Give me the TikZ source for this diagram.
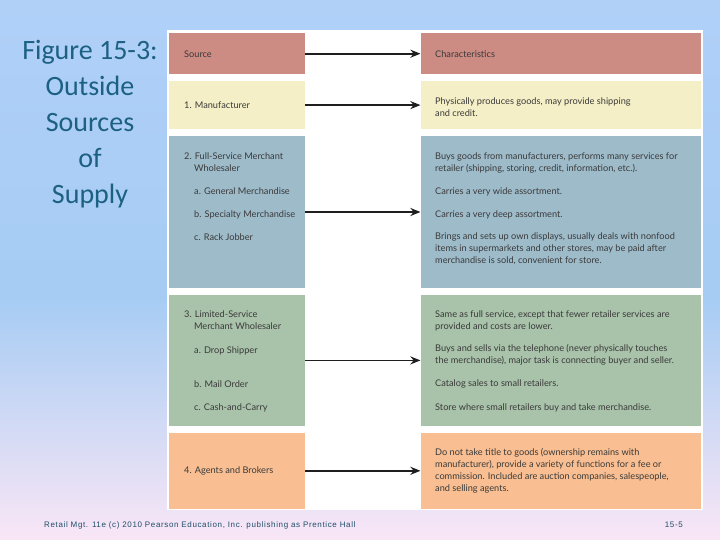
\documentclass[tikz,border=0pt]{standalone}
\usepackage{fontspec}
\setmainfont{Lato}
\newfontfamily\titlefont{Carlito}
\newfontfamily\footfont[LetterSpace=8]{Liberation Sans}
\usepackage{xcolor}
\usetikzlibrary{arrows.meta,positioning}
\definecolor{bgtop}{RGB}{176,208,248}
\definecolor{bgmid}{RGB}{166,204,244}
\definecolor{bgbot}{RGB}{249,230,246}
\definecolor{titlecol}{RGB}{28,96,130}
\definecolor{footcol}{RGB}{30,78,104}
\definecolor{txtcol}{RGB}{58,58,58}
\definecolor{arrcol}{RGB}{30,30,30}
\definecolor{srccol}{RGB}{204,139,131}
\definecolor{mfrcol}{RGB}{244,239,198}
\definecolor{fswcol}{RGB}{158,187,202}
\definecolor{lswcol}{RGB}{169,194,170}
\definecolor{agtcol}{RGB}{249,191,146}
\pgfdeclareverticalshading{slidebg}{100bp}{color(0bp)=(bgbot); color(25bp)=(bgbot); color(47.5bp)=(bgmid); color(75bp)=(bgtop); color(100bp)=(bgtop)}

\begin{document}
\begin{tikzpicture}[x=1pt,y=-1pt,>={Stealth[length=10pt,width=8pt]},node distance=6.5pt,
 box/.style={inner sep=0pt,minimum width=136pt},
 cbox/.style={inner sep=0pt,minimum width=280pt},
 txt/.style={anchor=north west,inner sep=0pt,align=left,font=\fontsize{9.2}{12}\selectfont,text=txtcol,execute at begin node=\rule{0pt}{7.5pt}},
 arr/.style={->,line width=1.8pt,draw=arrcol}]
 \useasboundingbox (0,0) rectangle (720,540);
 \fill[shading=slidebg] (0,0) rectangle (720,540);
 \fill[white] (167,30) rectangle (703,510);
 \node[font=\titlefont\fontsize{28}{36}\selectfont,text=titlecol,align=center,anchor=north,inner sep=0pt,execute at begin node=\rule{0pt}{22pt}] (ttl) at (90,40) {Figure 15-3:\\Outside\\Sources\\of\\Supply};
 % source column
 \node[box,fill=srccol,minimum height=41pt,anchor=north west] (src) at (169,33) {};
 \node[box,fill=mfrcol,minimum height=48pt,below=of src] (mfr) {};
 \node[box,fill=fswcol,minimum height=152pt,below=of mfr] (fsw) {};
 \node[box,fill=lswcol,minimum height=131pt,below=of fsw] (lsw) {};
 \node[box,fill=agtcol,minimum height=76pt,below=of lsw] (agt) {};
 % characteristics column
 \node[cbox,fill=srccol,minimum height=41pt,right=115pt of src] (chr) {};
 \node[cbox,fill=mfrcol,minimum height=48pt,right=115pt of mfr] (mfrc) {};
 \node[cbox,fill=fswcol,minimum height=152pt,right=115pt of fsw] (fswc) {};
 \node[cbox,fill=lswcol,minimum height=131pt,right=115pt of lsw] (lswc) {};
 \node[cbox,fill=agtcol,minimum height=76pt,right=115pt of agt] (agtc) {};
 \draw[arr] (src)--(chr); \draw[arr] (mfr)--(mfrc); \draw[arr] (fsw)--(fswc); \draw[arr] (lsw)--(lswc); \draw[arr] (agt)--(agtc);
 % labels left
 \node[txt] (srct) at (184,50) {Source};
 \node[txt] (mfrt) at (184,100.5) {1. Manufacturer};
 \node[txt] (fswt) at (184,152.5) {2. Full-Service Merchant\\\phantom{2.\ }Wholesaler};
 \node[txt] (fswa) at (194,186.5) {a. General Merchandise};
 \node[txt] (fswb) at (194,209.5) {b. Specialty Merchandise};
 \node[txt] (fswd) at (194,232.5) {c. Rack Jobber};
 \node[txt] (lswt) at (184,310.5) {3. Limited-Service\\\phantom{3.\ }Merchant Wholesaler};
 \node[txt] (lswa) at (194,345.5) {a. Drop Shipper};
 \node[txt] (lswb) at (194,379.5) {b. Mail Order};
 \node[txt] (lswd) at (194,402.5) {c. Cash-and-Carry};
 \node[txt] (agtt) at (184,465.5) {4. Agents and Brokers};
 % labels right
 \node[txt] (chrt) at (435,50) {Characteristics};
 \node[txt] (mfrct) at (435,97.5) {Physically produces goods, may provide shipping\\and credit.};
 \node[txt] (fswct) at (435,152.5) {Buys goods from manufacturers, performs many services for\\retailer (shipping, storing, credit, information, etc.).};
 \node[txt] (fswca) at (435,186.5) {Carries a very wide assortment.};
 \node[txt] (fswcb) at (435,209.5) {Carries a very deep assortment.};
 \node[txt] (fswcd) at (435,232.5) {Brings and sets up own displays, usually deals with nonfood\\items in supermarkets and other stores, may be paid after\\merchandise is sold, convenient for store.};
 \node[txt] (lswct) at (435,310.5) {Same as full service, except that fewer retailer services are\\provided and costs are lower.};
 \node[txt] (lswca) at (435,344.5) {Buys and sells via the telephone (never physically touches\\the merchandise), major task is connecting buyer and seller.};
 \node[txt] (lswcb) at (435,378.5) {Catalog sales to small retailers.};
 \node[txt] (lswcd) at (435,402.5) {Store where small retailers buy and take merchandise.};
 \node[txt] (agtct) at (435,448.5) {Do not take title to goods (ownership remains with\\manufacturer), provide a variety of functions for a fee or\\commission. Included are auction companies, salespeople,\\and selling agents.};
 % footer
 \node[anchor=base west,inner sep=0pt,font=\footfont\fontsize{8}{9}\selectfont,text=footcol] (ftl) at (44,527) {Retail Mgt. 11e (c) 2010 Pearson Education, Inc. publishing as Prentice Hall};
 \node[anchor=base east,inner sep=0pt,font=\footfont\fontsize{8}{9}\selectfont,text=footcol] (pg) at (683,527) {15-5};
\end{tikzpicture}
\end{document}
